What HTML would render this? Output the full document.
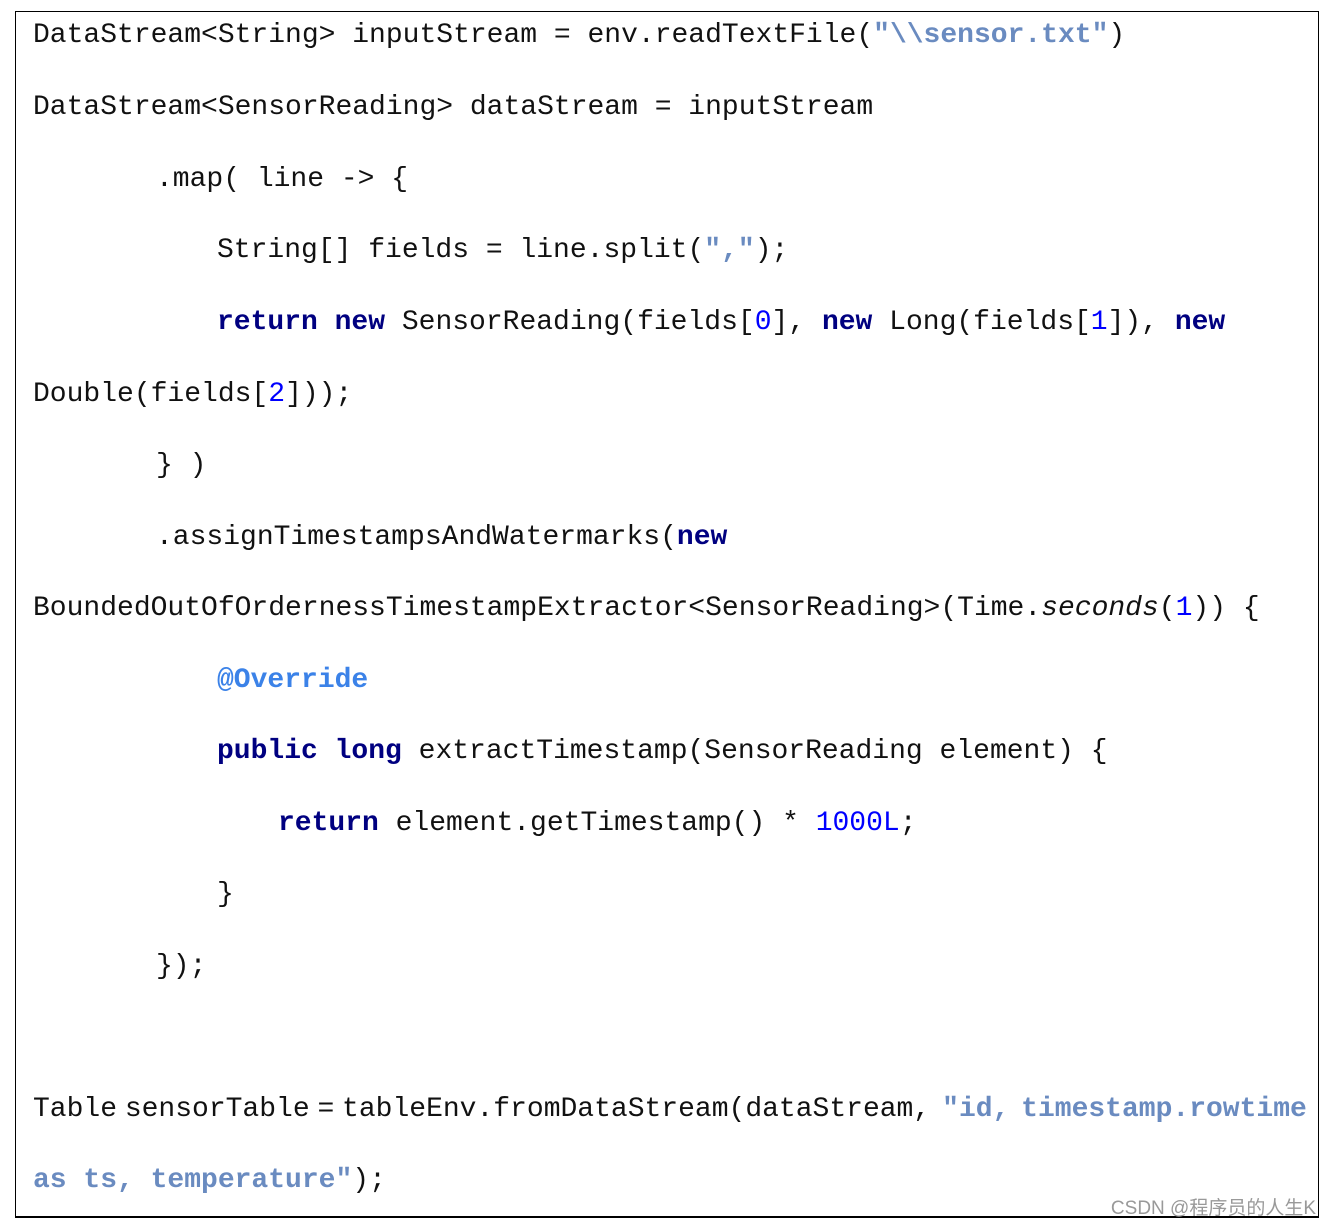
<!DOCTYPE html>
<html><head><meta charset="utf-8"><style>
body{margin:0;width:1332px;height:1225px;background:#fff;position:relative;overflow:hidden}
.box{position:absolute;left:15px;top:11px;width:1304px;height:1207px;border:1px solid #000;border-bottom-width:2px;box-sizing:border-box}
.l{position:absolute;font-family:"Liberation Mono",monospace;font-size:28px;line-height:40px;color:#111;white-space:pre}
.k{color:#000080;font-weight:bold}
.s{color:#6a8bc0;font-weight:bold}
.n{color:#0000ff}
.a{color:#3b82e8;font-weight:bold}
.w{position:absolute;right:16px;top:1193px;font-family:"Liberation Sans","Noto Sans CJK SC",sans-serif;font-size:19px;color:#999}
</style></head><body>
<div class="box"></div>
<div class="l" style="left:33px;top:16px">DataStream&lt;String&gt; inputStream = env.readTextFile(<span class="s">"\\sensor.txt"</span>)</div>
<div class="l" style="left:33px;top:88px">DataStream&lt;SensorReading&gt; dataStream = inputStream</div>
<div class="l" style="left:156px;top:160px">.map( line -&gt; {</div>
<div class="l" style="left:217px;top:231px">String[] fields = line.split(<span class="s">","</span>);</div>
<div class="l" style="left:217px;top:303px"><span class="k">return new</span> SensorReading(fields[<span class="n">0</span>], <span class="k">new</span> Long(fields[<span class="n">1</span>]), <span class="k">new</span></div>
<div class="l" style="left:33px;top:375px">Double(fields[<span class="n">2</span>]));</div>
<div class="l" style="left:156px;top:446px">} )</div>
<div class="l" style="left:156px;top:518px">.assignTimestampsAndWatermarks(<span class="k">new</span></div>
<div class="l" style="left:33px;top:589px">BoundedOutOfOrdernessTimestampExtractor&lt;SensorReading&gt;(Time.<i>seconds</i>(<span class="n">1</span>)) {</div>
<div class="l" style="left:217px;top:661px"><span class="a">@Override</span></div>
<div class="l" style="left:217px;top:732px"><span class="k">public long</span> extractTimestamp(SensorReading element) {</div>
<div class="l" style="left:278px;top:804px"><span class="k">return</span> element.getTimestamp() * <span class="n">1000L</span>;</div>
<div class="l" style="left:217px;top:875px">}</div>
<div class="l" style="left:156px;top:947px">});</div>
<div class="l" style="left:33px;top:1090px"><span style="word-spacing:-9px">Table sensorTable = tableEnv.fromDataStream(dataStream,</span><span style="display:inline-block;width:12px"></span><span class="s" style="word-spacing:-5px">"id, timestamp.rowtime</span></div>
<div class="l" style="left:33px;top:1161px"><span class="s">as ts, temperature"</span>);</div>
<div class="w">CSDN @程序员的人生K</div>
</body></html>
